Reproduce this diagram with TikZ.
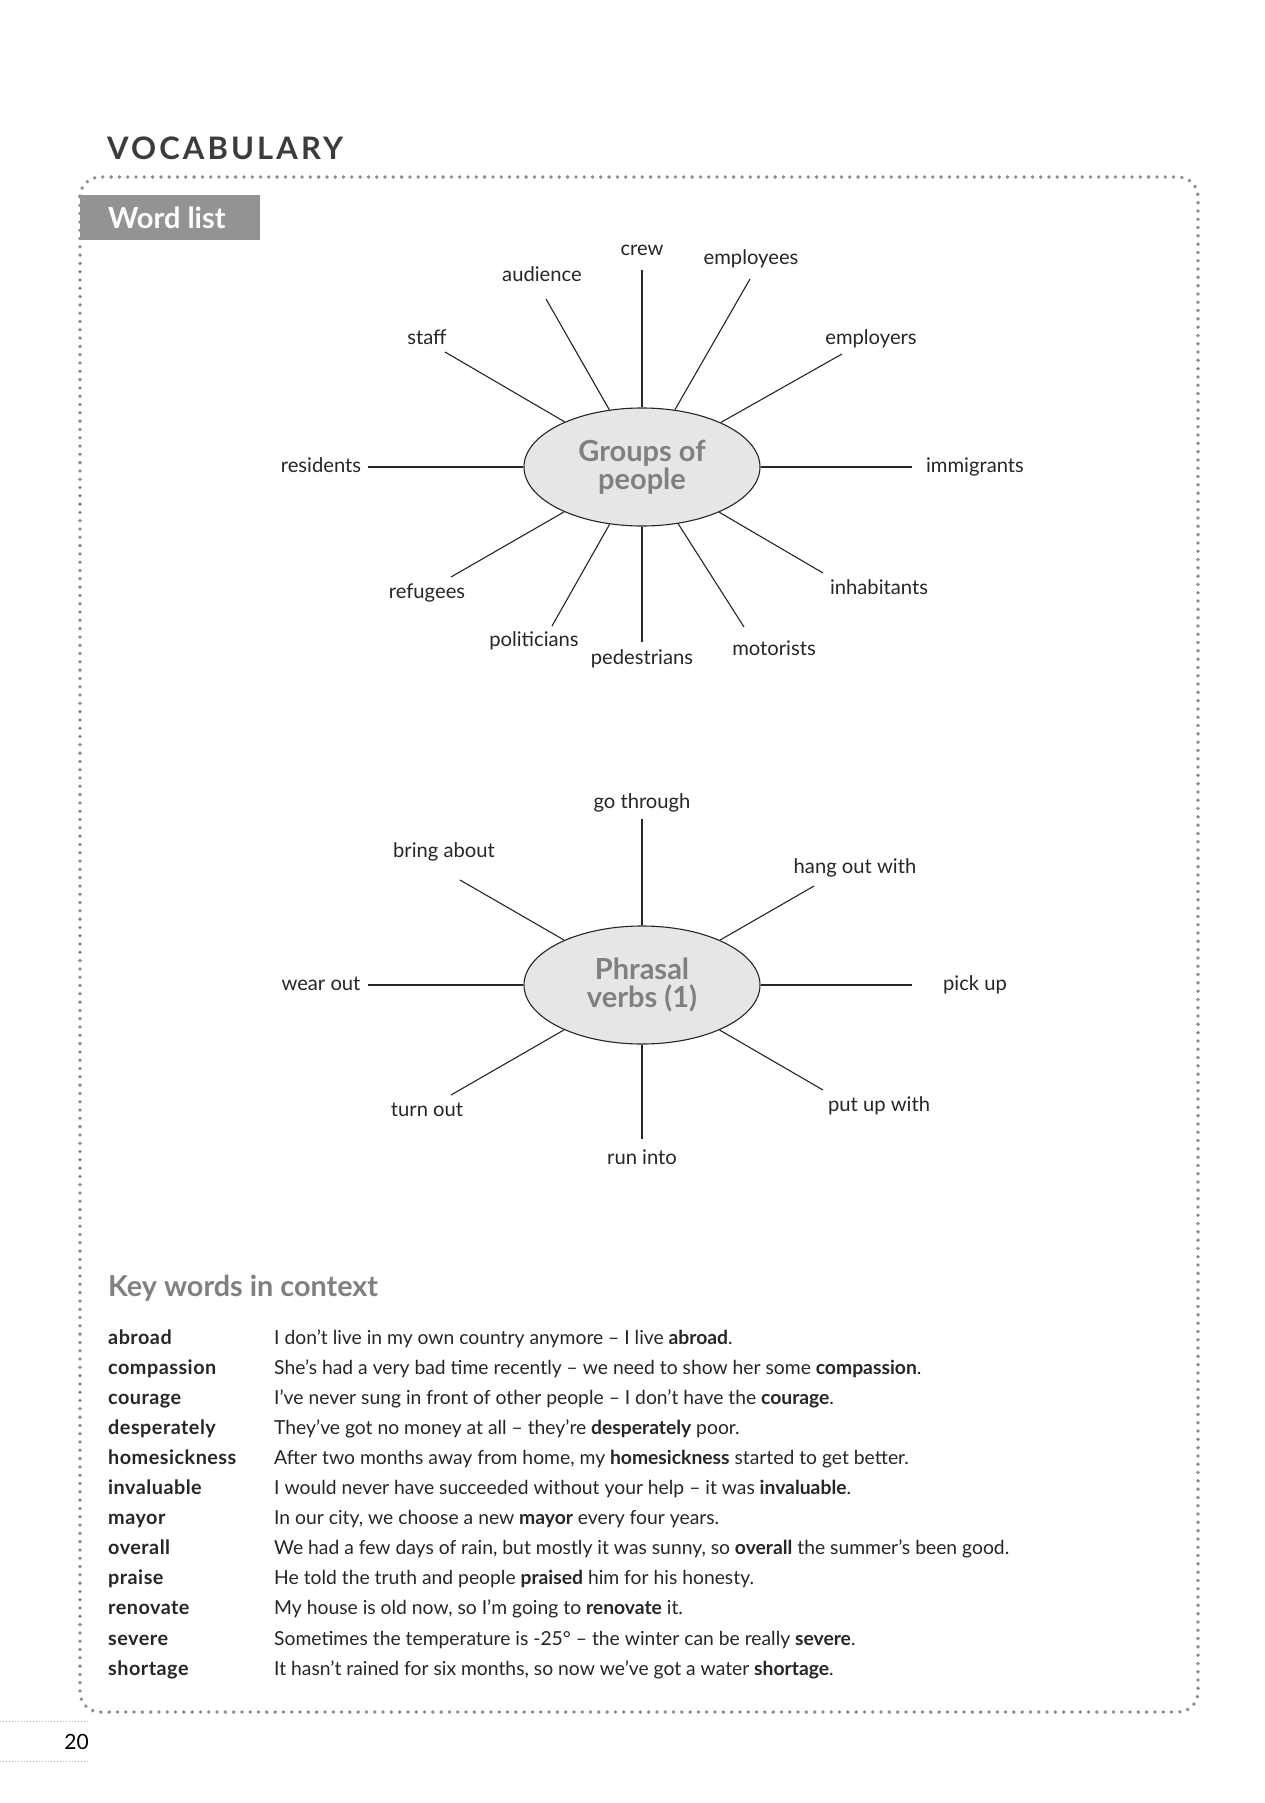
\documentclass[tikz,border=0pt]{standalone}
\usepackage{fontspec}
\setmainfont{Lato}
\newfontfamily\vocfont{Lato}[LetterSpace=10.0]
\newfontfamily\kwfont{Lato}[LetterSpace=2.5]
\usetikzlibrary{shapes.geometric}
\definecolor{ink}{HTML}{262626}
\definecolor{dotgray}{HTML}{8C8C8C}
\definecolor{tabgray}{HTML}{939393}
\definecolor{headgray}{HTML}{808080}
\definecolor{ellfill}{HTML}{E6E6E6}
\begin{document}
\begin{tikzpicture}[x=1pt,y=-1pt,
  lbl/.style={font=\fontsize{20.2}{24}\selectfont, text=ink, inner sep=0pt, text height=15pt, text depth=5pt},
  hub/.style={ellipse, draw=ink, line width=1.1pt, fill=ellfill, minimum width=236pt, minimum height=118pt, inner sep=0pt,
              align=center, text=headgray, font=\bfseries\fontsize{29}{29}\selectfont},
  spoke/.style={draw=ink, line width=1.1pt},
  kw/.style={anchor=base west, inner sep=0pt, text=ink, font=\kwfont\bfseries\fontsize{19.8}{22}\selectfont},
  sent/.style={anchor=base west, inner sep=0pt, text=ink, font=\fontsize{19.3}{22}\selectfont},
  frame/.style={draw=dotgray, line width=3.8pt, line cap=round, dash pattern=on 0pt off 8.3pt},
  fine/.style={draw=dotgray!70, line width=1pt, dash pattern=on 1pt off 2pt}
]
\useasboundingbox (0,0) rectangle (1264,1803);
\fill[white] (0,0) rectangle (1264,1803);

% title
\node[anchor=base west, inner sep=0pt, text=ink!90, font=\vocfont\bfseries\fontsize{31}{31}\selectfont] (title) at (107,160) {VOCABULARY};

% frame
\draw[frame, rounded corners=20pt] (80,177) rectangle (1198,1712);

% tab
\fill[tabgray] (80,195) rectangle (260,240);
\node[anchor=base west, inner sep=0pt, text=white, font=\bfseries\fontsize{29}{29}\selectfont] (tab) at (108,229) {Word list};

% ---------- diagram 1 ----------
\node[hub] (g) at (642,467) {Groups of\\[-1pt]people};

\node[lbl] (l1)  at (642,251) {crew};
\node[lbl] (l2)  at (542,276) {audience};
\node[lbl] (l3)  at (751,260) {employees};
\node[lbl] (l4)  at (427,339) {staff};
\node[lbl] (l5)  at (871,339) {employers};
\node[lbl] (l6)  at (321,467) {residents};
\node[lbl] (l7)  at (975,467) {immigrants};
\node[lbl] (l8)  at (427,593) {refugees};
\node[lbl] (l9)  at (879,589) {inhabitants};
\node[lbl] (l10) at (534,641) {politicians};
\node[lbl] (l11) at (642,659) {pedestrians};
\node[lbl] (l12) at (774,650) {motorists};

\coordinate (e1)  at (642,270);
\coordinate (e2)  at (546,299);
\coordinate (e3)  at (750,279);
\coordinate (e4)  at (445,352);
\coordinate (e5)  at (842,354);
\coordinate (e6)  at (368,467);
\coordinate (e7)  at (912,467);
\coordinate (e8)  at (451,577);
\coordinate (e9)  at (823,573);
\coordinate (e10) at (552,626);
\coordinate (e11) at (642,642);
\coordinate (e12) at (744,627);
\foreach \k in {1,...,12} { \draw[spoke] (g) -- (e\k); }

% ---------- diagram 2 ----------
\node[hub] (p) at (642,985) {Phrasal\\[-1pt]verbs (1)};

\node[lbl] (m1) at (642,803)  {go through};
\node[lbl] (m2) at (444,852)  {bring about};
\node[lbl] (m3) at (855,868)  {hang out with};
\node[lbl] (m4) at (321,985)  {wear out};
\node[lbl] (m5) at (975,985)  {pick up};
\node[lbl] (m6) at (427,1111) {turn out};
\node[lbl] (m7) at (879,1106) {put up with};
\node[lbl] (m8) at (642,1159) {run into};

\coordinate (f1) at (642,819);
\coordinate (f2) at (460,880);
\coordinate (f3) at (814,886);
\coordinate (f4) at (368,985);
\coordinate (f5) at (912,985);
\coordinate (f6) at (451,1095);
\coordinate (f7) at (823,1090);
\coordinate (f8) at (642,1139);
\foreach \k in {1,...,8} { \draw[spoke] (p) -- (f\k); }

% ---------- key words ----------
\node[anchor=base west, inner sep=0pt, text=headgray, font=\bfseries\fontsize{28.8}{28.8}\selectfont] (kh) at (108,1296) {Key words in context};

\node[kw] (w1)  at (108,1344)   {abroad};
\node[kw] (w2)  at (108,1374.1) {compassion};
\node[kw] (w3)  at (108,1404.2) {courage};
\node[kw] (w4)  at (108,1434.3) {desperately};
\node[kw] (w5)  at (108,1464.4) {homesickness};
\node[kw] (w6)  at (108,1494.5) {invaluable};
\node[kw] (w7)  at (108,1524.6) {mayor};
\node[kw] (w8)  at (108,1554.7) {overall};
\node[kw] (w9)  at (108,1584.8) {praise};
\node[kw] (w10) at (108,1614.9) {renovate};
\node[kw] (w11) at (108,1645.0) {severe};
\node[kw] (w12) at (108,1675.1) {shortage};

\node[sent] (s1)  at (274,1344)   {I don’t live in my own country anymore – I live \textbf{abroad}.};
\node[sent] (s2)  at (274,1374.1) {She’s had a very bad time recently – we need to show her some \textbf{compassion}.};
\node[sent] (s3)  at (274,1404.2) {I’ve never sung in front of other people – I don’t have the \textbf{courage}.};
\node[sent] (s4)  at (274,1434.3) {They’ve got no money at all – they’re \textbf{desperately} poor.};
\node[sent] (s5)  at (274,1464.4) {After two months away from home, my \textbf{homesickness} started to get better.};
\node[sent] (s6)  at (274,1494.5) {I would never have succeeded without your help – it was \textbf{invaluable}.};
\node[sent] (s7)  at (274,1524.6) {In our city, we choose a new \textbf{mayor} every four years.};
\node[sent] (s8)  at (274,1554.7) {We had a few days of rain, but mostly it was sunny, so \textbf{overall} the summer’s been good.};
\node[sent] (s9)  at (274,1584.8) {He told the truth and people \textbf{praised} him for his honesty.};
\node[sent] (s10) at (274,1614.9) {My house is old now, so I’m going to \textbf{renovate} it.};
\node[sent] (s11) at (274,1645.0) {Sometimes the temperature is -25° – the winter can be really \textbf{severe}.};
\node[sent] (s12) at (274,1675.1) {It hasn’t rained for six months, so now we’ve got a water \textbf{shortage}.};

% ---------- page number ----------
\draw[fine] (0,1721) -- (90,1721);
\draw[fine] (0,1761) -- (90,1761);
\node[anchor=base east, inner sep=0pt, text=black, font=\fontsize{21}{21}\selectfont] (pg) at (89,1749) {20};
\end{tikzpicture}
\end{document}
